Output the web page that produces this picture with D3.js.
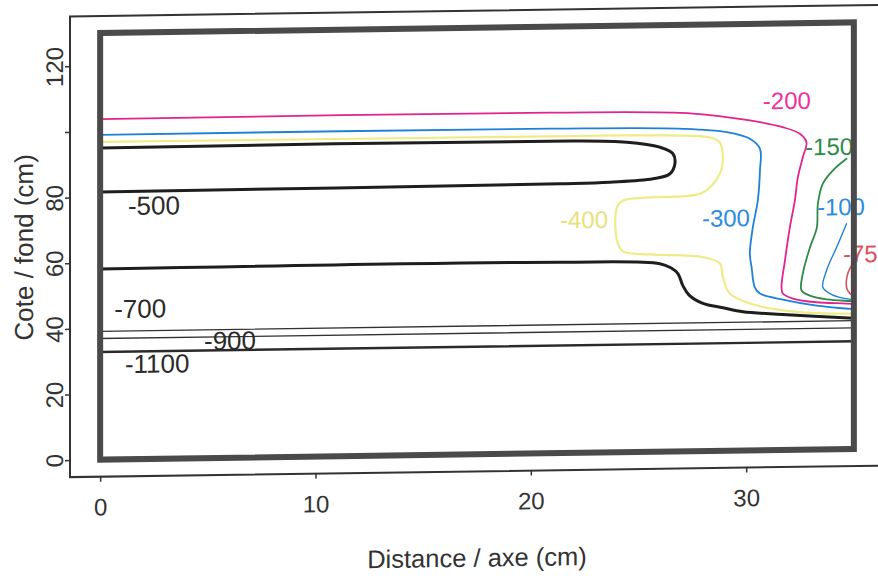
<!DOCTYPE html>
<html>
<head>
<meta charset="utf-8">
<script src="https://cdn.jsdelivr.net/npm/d3@7/dist/d3.min.js"></script>
<style>
  html, body { margin: 0; padding: 0; background: #fff; }
  svg { display: block; }
  text { font-family: "Liberation Sans", Arial, Helvetica, sans-serif; }
</style>
</head>
<body>
<svg id="chart" width="878" height="578"></svg>
<script>
// ---------- data (cm) ----------
const xTicks = [0, 10, 20, 30];
const xTickLabels = ["0", "10", "20", "30"];
const yTicks = [0, 20, 40, 60, 80, 100, 120];
const yTickLabels = ["0", "20", "40", "60", "80", "", "120"];
const domainBox = [[0, 0], [35, 130]];

const c200 = [[0,103.75],[20.89,103.8],[27.53,102.9],[30.17,100.55],[31.7,98.36],[32.49,96.28],[32.8,93.69],[32.63,89.12],[32.4,83.05],[32.26,75.96],[32.03,67.84],[31.8,57.71],[31.64,49.59],[31.7,47.66],[32.17,46.1],[33.27,44.86],[34.49,44.4],[35,44.2]];
const c300 = [[0,99.0],[20.89,98.9],[27.06,98.3],[29.1,97.09],[30.17,94.97],[30.64,91.87],[30.64,85.27],[30.54,76.13],[30.31,68.0],[30.17,60.0],[30.25,55.82],[30.4,49.7],[30.64,47.77],[31.7,45.82],[33.27,43.85],[35,42.6]];
const c400 = [[0,96.83],[20.89,96.56],[24.74,96.5],[28.32,95.55],[28.78,93.98],[28.92,89.48],[28.78,84.53],[27.99,78.81],[25.53,77.53],[24.28,76.72],[24.0,74.62],[24.0,64.56],[24.28,61.2],[25.53,60.15],[27.99,59.09],[28.78,57.09],[28.92,52.9],[29.24,47.9],[30.5,44.12],[32.63,41.86],[35,41.25]];
const c500 = [[0,95.0],[20.89,95.12],[24.46,94.48],[25.99,92.8],[26.6,90.74],[26.69,87.68],[26.46,84.66],[25.67,83.2],[23.67,82.36],[21.35,82.1],[0,81.6]];
const c600 = [[0,58.1],[21.35,58.2],[25.99,57.3],[26.5,56.0],[26.83,54.2],[27.06,50.5],[27.35,47.6],[27.99,45.0],[28.92,43.6],[29.85,42.3],[31.7,41.3],[35,39.8]];
const c700 = [[0,39.1],[35,39.1]];
const c900 = [[0,36.9],[35,36.9]];
const c1100 = [[0,32.8],[35,32.8]];
const c150 = [[34.66,88.45],[34.02,84.94],[33.56,81.0],[33.33,74.94],[33.28,67.62],[32.96,61.56],[32.63,53.66],[32.57,48.5],[32.96,46.92],[33.73,45.7],[34.82,45.1],[35,45.0]];
const c100 = [[34.66,68.63],[34.2,61.54],[33.73,54.48],[33.56,49.4],[33.89,47.45],[34.49,46.0],[35,45.5]];
const c75 = [[34.97,56.8],[34.72,53.47],[34.66,49.3],[34.82,47.35],[35,46.9]];

const labelText = ["-200", "-150", "-100", "-75", "-300", "-400", "-500", "-700", "-900", "-1100"];
const labelX    = [31.89, 33.85, 34.4, 35.3, 29.06, 22.47, 2.5, 1.86, 6.03, 2.65];
const labelY    = [106.5, 92.3, 73.9, 59.5, 71.0, 71.1, 77.3, 45.95, 35.8, 29.1];

// ---------- styles ----------
const PINK = "#e2238e", BLUE = "#1f80d8", YELLOW = "#efeb86", GREEN = "#2f8a48", RED = "#d9505e", BLACK = "#1e1e1e";
const lines = [
  { d: c600, color: BLACK, w: 3 },
  { d: c500, color: BLACK, w: 3 },
  { d: c400, color: YELLOW, w: 2.2 },
  { d: c300, color: BLUE, w: 1.8 },
  { d: c200, color: PINK, w: 1.8 },
  { d: c150, color: GREEN, w: 1.8 },
  { d: c100, color: BLUE, w: 1.4 },
  { d: c75, color: RED, w: 1.6 },
  { d: c700, color: "#333", w: 1.4 },
  { d: c900, color: "#333", w: 1.4 },
  { d: c1100, color: "#2a2a2a", w: 2.4 }
];
const labelColor = ["#f0309a", "#2f8a48", "#2d8be0", "#d9505e", "#2d8be0", "#e6e27a", "#2a2a2a", "#2a2a2a", "#2a2a2a", "#2a2a2a"];
const labelSize  = [24, 24, 24, 24, 24, 24, 26, 26, 26, 26];

// ---------- layout ----------
const svg = d3.select("#chart");
svg.append("rect").attr("width", 878).attr("height", 578).attr("fill", "#fff");

const shear = 0.0142;
const g = svg.append("g").attr("transform", `matrix(1,${-shear},0,1,0,${shear * 100})`);

const x = d3.scaleLinear().domain([-1.4, 36.4]).range([70, 884]);
const y = d3.scaleLinear().domain([-5.2, 135.2]).range([476.7, 16]);

// outer plot frame
g.append("rect")
  .attr("x", x(-1.4)).attr("y", y(135.2))
  .attr("width", x(36.4) - x(-1.4)).attr("height", y(-5.2) - y(135.2))
  .attr("fill", "none").attr("stroke", "#333").attr("stroke-width", 2);

// axes
const yAxis = g.append("g").attr("transform", `translate(${x(-1.4)},0)`)
  .call(d3.axisLeft(y).tickValues(yTicks).tickSize(5).tickFormat((d, i) => yTickLabels[i]));
yAxis.select(".domain").remove();
yAxis.selectAll(".tick line").attr("stroke", "#333").attr("stroke-width", 1.5);
yAxis.selectAll(".tick text")
  .attr("transform", "rotate(-90)")
  .attr("x", 0).attr("y", -6.7).attr("dy", 0)
  .attr("text-anchor", "middle")
  .attr("fill", "#333").attr("font-size", 24)
  .attr("font-family", "'Liberation Sans', Arial, Helvetica, sans-serif");

const xAxis = g.append("g").attr("transform", `translate(0,${y(-5.2)})`)
  .call(d3.axisBottom(x).tickValues(xTicks).tickSize(5).tickFormat((d, i) => xTickLabels[i]));
xAxis.select(".domain").remove();
xAxis.selectAll(".tick line").attr("stroke", "#333").attr("stroke-width", 1.5);
xAxis.selectAll(".tick text")
  .attr("y", 38.8).attr("dy", 0)
  .attr("fill", "#333").attr("font-size", 24)
  .attr("font-family", "'Liberation Sans', Arial, Helvetica, sans-serif");

// axis titles
g.append("text")
  .attr("x", (x(-1.4) + x(36.4)) / 2).attr("y", 572)
  .attr("text-anchor", "middle").attr("font-size", 25.5).attr("fill", "#333")
  .text("Distance / axe (cm)");
g.append("text")
  .attr("transform", `translate(33,${(y(-5.2) + y(135.2)) / 2}) rotate(-90)`)
  .attr("text-anchor", "middle").attr("font-size", 26).attr("fill", "#333")
  .text("Cote / fond (cm)");

// contour lines
const line = d3.line().x(d => x(d[0])).y(d => y(d[1])).curve(d3.curveCatmullRom.alpha(0.5));
lines.forEach(l => {
  g.append("path").attr("d", line(l.d)).attr("fill", "none")
    .attr("stroke", l.color).attr("stroke-width", l.w)
    .attr("stroke-linejoin", "round").attr("stroke-linecap", "round");
});

// contour labels
labelText.forEach((t, i) => {
  g.append("text")
    .attr("x", x(labelX[i])).attr("y", y(labelY[i]))
    .attr("dy", "0.36em").attr("text-anchor", "middle")
    .attr("font-size", labelSize[i]).attr("fill", labelColor[i])
    .text(t);
});

// domain box
g.append("rect")
  .attr("x", x(domainBox[0][0])).attr("y", y(domainBox[1][1]))
  .attr("width", x(domainBox[1][0]) - x(domainBox[0][0]))
  .attr("height", y(domainBox[0][1]) - y(domainBox[1][1]))
  .attr("fill", "none").attr("stroke", "#4a4a4a").attr("stroke-width", 6);
</script>
</body>
</html>
